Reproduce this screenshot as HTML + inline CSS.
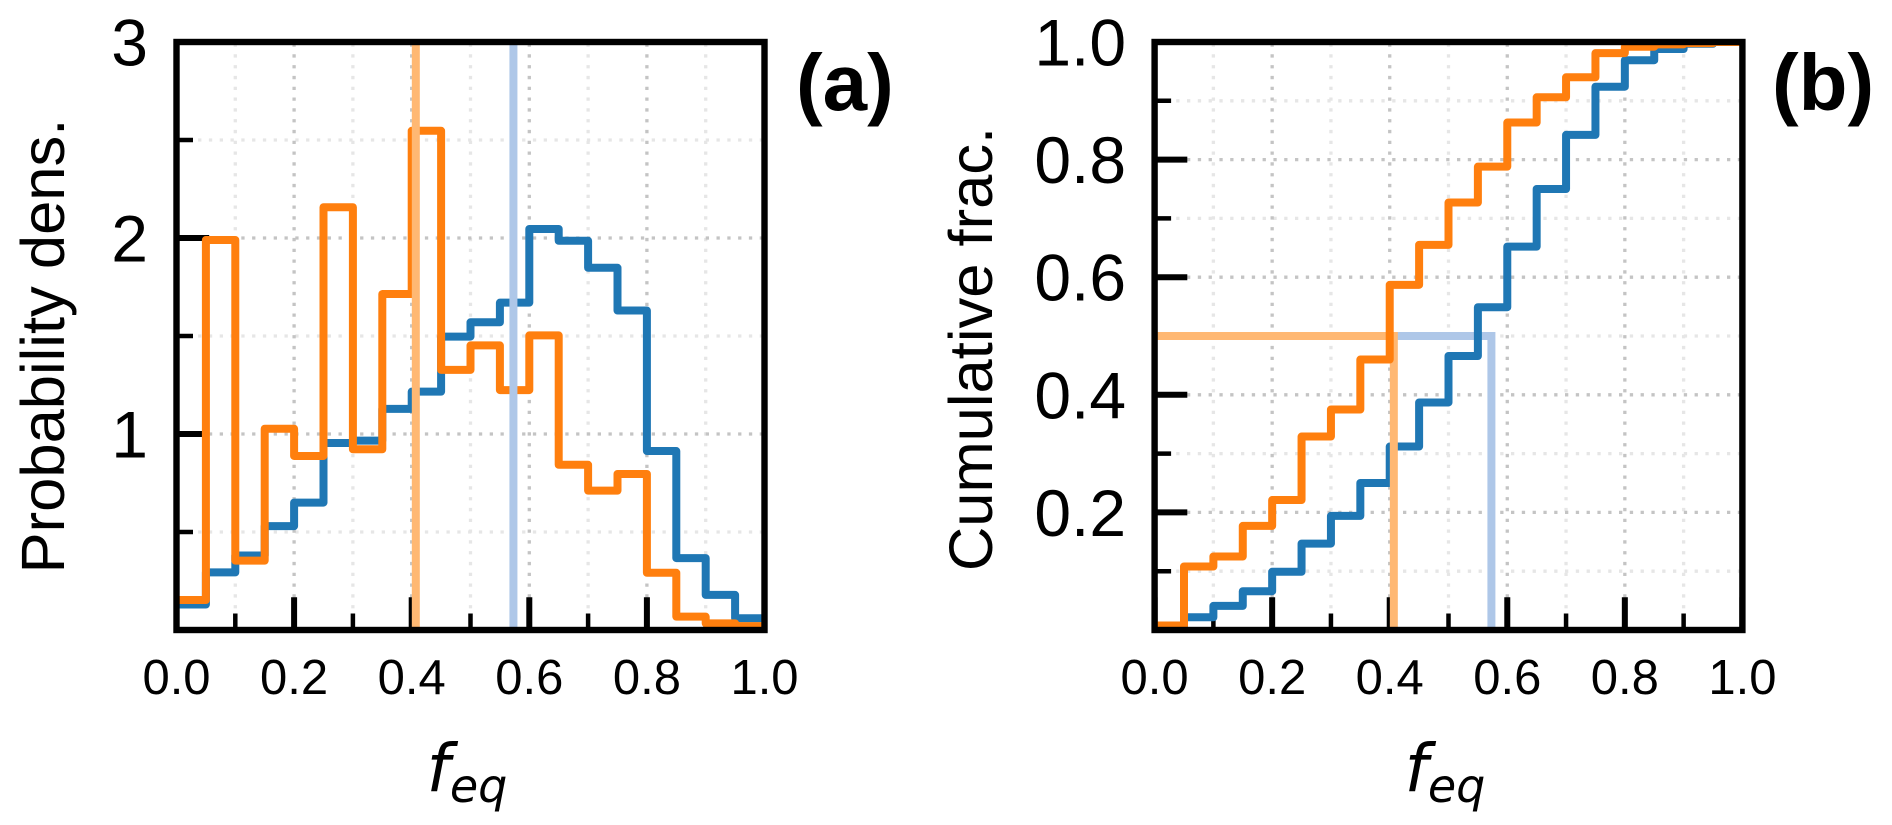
<!DOCTYPE html>
<html>
<head>
<meta charset="utf-8">
<style>
html,body{margin:0;padding:0;background:#fff;width:1892px;height:825px;overflow:hidden}
svg{display:block}
text{font-family:"Liberation Sans",sans-serif;fill:#000}
.math{font-family:"DejaVu Sans",sans-serif;font-style:italic}
</style>
</head>
<body>
<svg id="chart" width="1892" height="825" viewBox="0 0 1892 825" xmlns="http://www.w3.org/2000/svg"></svg>
<script>
const binEdges = [0,0.05,0.1,0.15,0.2,0.25,0.3,0.35,0.4,0.45,0.5,0.55,0.6,0.65,0.7,0.75,0.8,0.85,0.9,0.95,1.0];
const densityBlue = [0.13,0.294,0.38,0.53,0.65,0.954,0.966,1.128,1.216,1.497,1.57,1.67,2.046,1.986,1.848,1.63,0.913,0.367,0.179,0.06];
const densityOrange = [0.153,1.99,0.354,1.027,0.888,2.157,0.922,1.714,2.547,1.327,1.452,1.224,1.503,0.843,0.711,0.796,0.292,0.068,0.034,0.02];
const cumulativeBlue = [0.0065,0.0216,0.041,0.066,0.099,0.147,0.194,0.25,0.312,0.387,0.466,0.549,0.652,0.75,0.842,0.924,0.969,0.988,0.997,1.0];
const cumulativeOrange = [0.0077,0.108,0.125,0.177,0.221,0.329,0.375,0.46,0.587,0.655,0.727,0.788,0.863,0.906,0.94,0.981,0.992,0.996,0.998,1.0];
const medianBlue = 0.573;
const medianOrange = 0.407;
const medianFraction = 0.5;
const xMajorTicks = [0,0.2,0.4,0.6,0.8,1.0];
const xMinorTicks = [0.1,0.3,0.5,0.7,0.9];
const xTickLabels = ["0.0","0.2","0.4","0.6","0.8","1.0"];
const yMajorTicksA = [0,1,2,3];
const yMinorTicksA = [0.5,1.5,2.5];
const yTickLabelsA = ["","1","2","3"];
const yMajorTicksB = [0,0.2,0.4,0.6,0.8,1.0];
const yMinorTicksB = [0.1,0.3,0.5,0.7,0.9];
const yTickLabelsB = ["","0.2","0.4","0.6","0.8","1.0"];

const NS = "http://www.w3.org/2000/svg";
const svg = document.getElementById("chart");
const BLUE = "#1f77b4", ORANGE = "#ff7f0e", FADE_BLUE = "#aec7e8", FADE_ORANGE = "#ffb873";

function mk(parent, tag, attrs) {
  const el = document.createElementNS(NS, tag);
  for (const k in attrs) el.setAttribute(k, attrs[k]);
  parent.appendChild(el);
  return el;
}
function stepPath(edges, vals, sx, sy) {
  let d = "";
  vals.forEach(function (v, i) {
    d += (i === 0 ? "M" : "L") + sx(edges[i]) + " " + sy(v) + "L" + sx(edges[i + 1]) + " " + sy(v);
  });
  return d;
}
function drawGrid(g, p, xs, ys, color, kind) {
  xs.forEach(function (v) {
    const l = mk(g, "line", {x1: p.sx(v), x2: p.sx(v), y1: p.bottom, y2: p.top, stroke: color, "stroke-width": 3.3, "stroke-dasharray": "3.3 7.5"});
    
    
  });
  ys.forEach(function (v) {
    const l = mk(g, "line", {x1: p.left, x2: p.right, y1: p.sy(v), y2: p.sy(v), stroke: color, "stroke-width": 3.3, "stroke-dasharray": "3.3 7.5"});
    
    
  });
}
function drawTicks(g, p, xs, ys, len, w, kind) {
  xs.forEach(function (v) {
    const l = mk(g, "line", {x1: p.sx(v), x2: p.sx(v), y1: p.bottom, y2: p.bottom - len, stroke: "#000", "stroke-width": w});
    
    
  });
  ys.forEach(function (v) {
    const l = mk(g, "line", {x1: p.left, x2: p.left + len, y1: p.sy(v), y2: p.sy(v), stroke: "#000", "stroke-width": w});
    
    
  });
}
function drawStep(g, p, vals, color, name) {
  const l = mk(g, "path", {d: stepPath(binEdges, vals, p.sx, p.sy), fill: "none", stroke: color, "stroke-width": 8, "stroke-linejoin": "round", "clip-path": "url(#" + p.id + "-clip)"});
  
  
}
function drawMedian(g, p, xVal, color, name, withHorizontal) {
  let d = "M" + p.sx(xVal) + " " + p.bottom + "L" + p.sx(xVal) + " " + (withHorizontal ? p.sy(medianFraction) : p.top);
  if (withHorizontal) d += "L" + p.left + " " + p.sy(medianFraction);
  const l = mk(g, "path", {d: d, fill: "none", stroke: color, "stroke-width": 8, "stroke-linejoin": "miter", "clip-path": "url(#" + p.id + "-clip)"});
  
  
}
function panelFrame(p, yMaj, yMin, yLabels) {
  const g = mk(svg, "g", {});
  
  
  const defs = mk(g, "defs", {});
  const cp = mk(defs, "clipPath", {id: p.id + "-clip"});
  mk(cp, "rect", {x: p.left, y: p.top, width: p.right - p.left, height: p.bottom - p.top});
  drawGrid(g, p, xMinorTicks, yMin, "#e6e6e6", "minor");
  drawGrid(g, p, xMajorTicks.slice(1, -1), yMaj.slice(1, -1), "#c4c4c4", "major");
  drawTicks(g, p, xMinorTicks, yMin, 16.5, 4.5, "minor");
  drawTicks(g, p, xMajorTicks, yMaj, 32.7, 6, "major");
  xMajorTicks.forEach(function (v, i) {
    const t = mk(g, "text", {x: p.sx(v), y: 694, "font-size": 49, "text-anchor": "middle"});
    t.textContent = xTickLabels[i];
    
    
  });
  yMaj.forEach(function (v, i) {
    if (!yLabels[i]) return;
    const t = mk(g, "text", {x: p.left - 28.5, y: p.sy(v) + 23.5, "font-size": 66, "text-anchor": "end"});
    t.textContent = yLabels[i];
    
    
  });
  return g;
}
function spines(g, p) {
  const r = mk(g, "rect", {x: p.left, y: p.top, width: p.right - p.left, height: p.bottom - p.top, fill: "none", stroke: "#000", "stroke-width": 6.4});
  
  
}
function linScale(a0, a1, p0, p1) {
  return function (v) { return p0 + (v - a0) / (a1 - a0) * (p1 - p0); };
}
function xTitle(cx) {
  const t = mk(svg, "text", {x: cx, y: 791, "text-anchor": "middle", "font-size": 66, "class": "math"});
  
  
  const a = mk(t, "tspan", {});
  a.textContent = "f";
  const b = mk(t, "tspan", {dy: 11, "font-size": 46});
  b.textContent = "eq";
}
function yTitle(x, y, txt) {
  const t = mk(svg, "text", {x: x, y: y, "text-anchor": "middle", "font-size": 61.5, transform: "rotate(-90 " + x + " " + y + ")"});
  t.textContent = txt;
  
  
}
function panelLabel(x, y, txt) {
  const t = mk(svg, "text", {x: x, y: y, "font-size": 80, "font-weight": "bold"});
  t.textContent = txt;
  
  
}

// Panel (a)
const pA = {id: "panel-a", left: 176.5, right: 764.5, top: 42, bottom: 630};
pA.sx = linScale(0, 1, pA.left, pA.right);
pA.sy = linScale(0, 3, pA.bottom, pA.top);
const gA = panelFrame(pA, yMajorTicksA, yMinorTicksA, yTickLabelsA);
drawStep(gA, pA, densityBlue, BLUE, "density-step-blue");
drawStep(gA, pA, densityOrange, ORANGE, "density-step-orange");
drawMedian(gA, pA, medianOrange, FADE_ORANGE, "median-line-orange", false);
drawMedian(gA, pA, medianBlue, FADE_BLUE, "median-line-blue", false);
spines(gA, pA);

// Panel (b)
const pB = {id: "panel-b", left: 1154.6, right: 1742.4, top: 42, bottom: 630};
pB.sx = linScale(0, 1, pB.left, pB.right);
pB.sy = linScale(0, 1, pB.bottom, pB.top);
const gB = panelFrame(pB, yMajorTicksB, yMinorTicksB, yTickLabelsB);
drawMedian(gB, pB, medianBlue, FADE_BLUE, "median-line-blue", true);
drawStep(gB, pB, cumulativeBlue, BLUE, "cumulative-step-blue");
drawMedian(gB, pB, medianOrange, FADE_ORANGE, "median-line-orange", true);
drawStep(gB, pB, cumulativeOrange, ORANGE, "cumulative-step-orange");
spines(gB, pB);

xTitle(467);
xTitle(1445);
yTitle(64, 346, "Probability dens.");
yTitle(992, 349, "Cumulative frac.");
panelLabel(796, 110, "(a)");
panelLabel(1772, 110, "(b)");
</script>
</body>
</html>
